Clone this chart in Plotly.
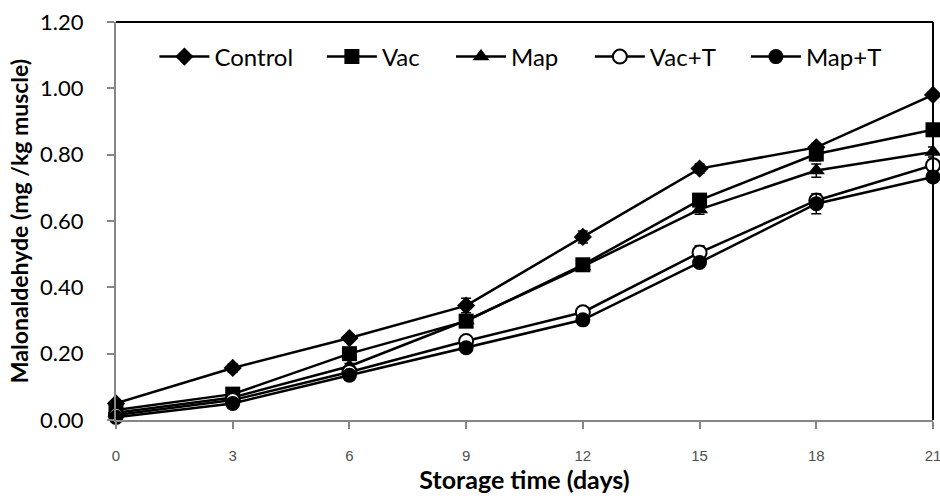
import plotly.graph_objects as go

# Storage days and malonaldehyde content (mg/kg muscle) per treatment
days = [0, 3, 6, 9, 12, 15, 18, 21]

control = [0.050, 0.157, 0.247, 0.345, 0.552, 0.758, 0.822, 0.980]
vac = [0.030, 0.078, 0.200, 0.298, 0.468, 0.663, 0.802, 0.875]
map_ = [0.022, 0.068, 0.162, 0.300, 0.463, 0.635, 0.752, 0.808]
vac_t = [0.015, 0.060, 0.145, 0.238, 0.325, 0.505, 0.662, 0.768]
map_t = [0.008, 0.050, 0.135, 0.218, 0.302, 0.475, 0.652, 0.733]

# Standard deviations
control_err = [0.005, 0.012, 0.008, 0.022, 0.018, 0.014, 0.012, 0.008]
vac_err = [0.004, 0.008, 0.010, 0.012, 0.014, 0.012, 0.020, 0.010]
map_err = [0.004, 0.006, 0.008, 0.010, 0.012, 0.015, 0.020, 0.015]
vac_t_err = [0.004, 0.006, 0.008, 0.012, 0.012, 0.020, 0.012, 0.012]
map_t_err = [0.003, 0.005, 0.008, 0.010, 0.010, 0.012, 0.030, 0.012]

series_names = ["Control", "Vac", "Map", "Vac+T", "Map+T"]
series_values = [control, vac, map_, vac_t, map_t]
series_errors = [control_err, vac_err, map_err, vac_t_err, map_t_err]
symbols = ["diamond", "square", "triangle-up", "circle", "circle"]
sizes = [14, 15, 15, 14, 15]
fills = ["black", "black", "black", "white", "black"]
legend_x = [0.047, 0.252, 0.410, 0.580, 0.771]

fig = go.Figure()
for i, (name, vals, errs) in enumerate(zip(series_names, series_values, series_errors)):
    lg = "legend" if i == 0 else f"legend{i + 1}"
    fig.add_trace(go.Scatter(
        x=days, y=vals, name=name, mode="lines+markers",
        line=dict(color="black", width=2.5),
        marker=dict(symbol=symbols[i], size=sizes[i], color=fills[i],
                    line=dict(color="black", width=2 if fills[i] == "white" else 0)),
        error_y=dict(type="data", array=errs, visible=True, color="black",
                     thickness=1.5, width=5),
        cliponaxis=False,
        legend=lg,
    ))

legend_style = dict(orientation="h", yanchor="middle", y=0.912, xanchor="left",
                    bgcolor="rgba(0,0,0,0)", itemwidth=50,
                    font=dict(family="Lato", size=24, color="black"))
layout_legends = {}
for i in range(len(series_names)):
    key = "legend" if i == 0 else f"legend{i + 1}"
    layout_legends[key] = dict(legend_style, x=legend_x[i])

fig.update_layout(
    width=940, height=496,
    margin=dict(l=116, r=7, t=22, b=76),
    paper_bgcolor="white", plot_bgcolor="white",
    showlegend=True,
    **layout_legends,
    xaxis=dict(
        range=[0, 21], tickvals=days, ticktext=[str(d) for d in days],
        automargin=False,
        showgrid=False, zeroline=False,
        showline=True, linecolor="#868686", linewidth=2,
        ticks="outside", ticklen=7, tickcolor="#868686", tickwidth=1.5,
        tickfont=dict(family="Liberation Sans", size=15, color="#505050"),
        ticklabelstandoff=14, ticklabeloverflow="allow",
        title=dict(text="<b>Storage time (days)</b>", standoff=6,
                   font=dict(family="Lato", size=25, color="black")),
    ),
    yaxis=dict(
        range=[0, 1.2], dtick=0.2, tickformat=".2f",
        automargin=False,
        showgrid=False, zeroline=False,
        showline=True, linecolor="#868686", linewidth=2,
        ticks="outside", ticklen=7, tickcolor="#868686", tickwidth=1.5,
        tickfont=dict(family="Lato", size=22, color="black"),
        ticklabelstandoff=19,
        title=dict(text="<b>Malonaldehyde (mg /kg muscle)</b>", standoff=5,
                   font=dict(family="Lato", size=23, color="black")),
    ),
    shapes=[
        dict(type="line", xref="paper", yref="paper", x0=0, x1=1, y0=1, y1=1,
             line=dict(color="black", width=2)),
        dict(type="line", xref="paper", yref="paper", x0=1, x1=1, y0=0, y1=1,
             line=dict(color="black", width=2)),
    ],
)

fig.write_html("out.html")
